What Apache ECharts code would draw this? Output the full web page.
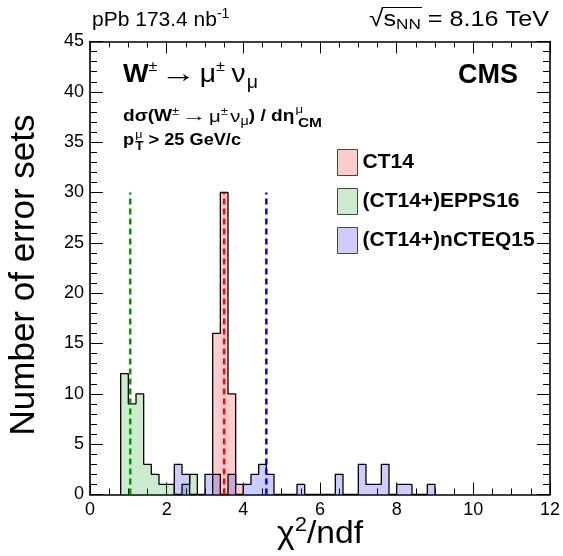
<!DOCTYPE html>
<html><head><meta charset="utf-8">
<script src="https://cdn.jsdelivr.net/npm/echarts@6/dist/echarts.min.js"></script>
<style>html,body{margin:0;padding:0;background:#fff}#c{width:563px;height:556px}</style>
</head><body><div id="c"></div>
<script>
// ---------- data ----------
const binWidth = 0.2;
const ct14Start = 3.2;
const ct14Counts = [16, 30, 10, 1];
const eppsStart = 0.8;
const eppsCounts = [12, 9, 10, 3, 2, 1, 1, 0, 1, 2];
const ncteqStart = 2.2;
const ncteqCounts = [3, 2, 0, 0, 2, 2, 0, 2, 0, 1, 2, 3, 2, 0, 0, 0, 1, 0, 0, 0, 0, 2, 0, 0, 3, 1, 1, 3, 0, 1, 1, 0, 0, 1];
const ct14Mean = 3.5;
const eppsMean = 1.05;
const ncteqMean = 4.6;
const meanLineTop = 30;
const seriesNames = ['CT14', '(CT14+)EPPS16', '(CT14+)nCTEQ15'];
const xRange = [0, 12];
const xTickStep = 2;
const yRange = [0, 45];
const yTickStep = 5;

// ---------- style ----------
const FF = '"Liberation Sans", Arial, Helvetica, sans-serif';
const fills = ['rgba(255,0,0,0.2)', 'rgba(0,155,0,0.2)', 'rgba(0,0,255,0.2)'];
const lineCols = ['#ff0000', '#009900', '#0000ff'];

function stepData(start, counts) {
  const pts = [[start, 0]];
  counts.forEach((c, i) => pts.push([+(start + i * binWidth).toFixed(6), c]));
  pts.push([+(start + counts.length * binWidth).toFixed(6), 0]);
  return pts;
}

const ctx = document.createElement('canvas').getContext('2d');
function tw(t, f) { ctx.font = f; return ctx.measureText(t).width; }
function pieceW(q) { return (q.w != null ? q.w : tw(q.t, q.f)) + (q.dx || 0); }
function naturalWidth(pieces) {
  let w = 0;
  pieces.forEach(p => { const g = Array.isArray(p) ? p : [p]; w += Math.max(...g.map(pieceW)) + (g[0].gap || 0); });
  return w;
}
// lay out a sequence of text pieces; an array item = vertically stacked group
function layout(x0, yc, pieces, sx) {
  sx = sx || 1;
  const out = [];
  let x = x0;
  pieces.forEach(p => {
    const grp = Array.isArray(p) ? p : [p];
    x += (grp[0].gap || 0) * sx;
    let adv = 0;
    grp.forEach(q => {
      const nat = tw(q.t, q.f);
      const s = sx * (q.w != null ? q.w / nat : 1);
      out.push({ type: 'text', x: x + (q.dx || 0) * sx, y: yc + (q.dy || 0), scaleX: s, silent: true,
        style: { text: q.t, font: q.f, fill: '#000', textAlign: 'left', textVerticalAlign: 'middle' } });
      adv = Math.max(adv, pieceW(q));
    });
    x += adv * sx;
  });
  return out;
}
function fitLayout(x0, x1, yc, pieces) {
  return layout(x0, yc, pieces, (x1 - x0) / naturalWidth(pieces));
}

const bold = s => 'bold ' + s + 'px ' + FF;
const reg = s => s + 'px ' + FF;

const chart = echarts.init(document.getElementById('c'), null, { renderer: 'canvas' });

const graphics = [];
// header left
graphics.push(...layout(92, 20, [{ t: 'pPb 173.4 nb', f: reg(21) }, { t: '-1', f: reg(14), dy: -6 }]));
// header right
const hdr = [{ t: '\u221A', f: reg(23) }, { t: 's', f: reg(22) }, { t: 'NN', f: reg(15), dy: 5 }, { t: ' = 8.16 TeV', f: reg(22) }];
const hx0 = 369, hx1 = 549;
graphics.push(...fitLayout(hx0, hx1, 20, hdr));
const hs = (hx1 - hx0) / naturalWidth(hdr);
const ovStart = hx0 + (tw('\u221A', reg(23)) - 1.5) * hs;
const ovEnd = hx0 + (tw('\u221A', reg(23)) + tw('s', reg(22)) + tw('NN', reg(15)) + 1) * hs;
graphics.push({ type: 'line', silent: true, shape: { x1: ovStart, y1: 7.5, x2: ovEnd, y2: 7.5 }, style: { stroke: '#000', lineWidth: 1.2 } });

// process label
graphics.push(...fitLayout(123, 258, 75, [
  { t: 'W', f: bold(25) }, { t: '\u00B1', f: reg(15), dy: -8 },
  { t: '\u2192', f: reg(26), w: 33, gap: 3 }, { t: '\u03BC', f: reg(26), gap: 3 }, { t: '\u00B1', f: reg(15), dy: -8 },
  { t: '\u03BD', f: reg(26), gap: 6 }, { t: '\u03BC', f: reg(18), dy: 8, gap: 1 }
]));
graphics.push(...fitLayout(123, 322, 117, [
  { t: 'd\u03C3(W', f: bold(16) }, { t: '\u00B1', f: reg(11), dy: -5 },
  { t: '\u2192', f: reg(16), w: 21, gap: 2 }, { t: '\u03BC', f: reg(17), gap: 2 }, { t: '\u00B1', f: reg(11), dy: -5 },
  { t: '\u03BD', f: reg(17), gap: 2 }, { t: '\u03BC', f: reg(12), dy: 5 },
  { t: ') / d\u03B7', f: bold(16) },
  [{ t: '\u03BC', f: reg(11), dy: -7, gap: 1 }, { t: 'CM', f: bold(13), dy: 6, dx: 2 }]
]));
graphics.push(...fitLayout(123, 241, 141, [
  { t: 'p', f: bold(16) },
  [{ t: '\u03BC', f: reg(11), dy: -6, gap: 1 }, { t: 'T', f: bold(12), dy: 6 }],
  { t: ' > 25 GeV/c', f: bold(16) }
]));
// CMS
graphics.push({ type: 'text', x: 518, y: 76, silent: true,
  style: { text: 'CMS', font: bold(27), fill: '#000', textAlign: 'right', textVerticalAlign: 'middle' } });
// axis titles
graphics.push({ type: 'text', x: 24, y: 275, rotation: Math.PI / 2, silent: true,
  style: { text: 'Number of error sets', font: reg(35), fill: '#000', textAlign: 'center', textVerticalAlign: 'middle' } });
graphics.push(...fitLayout(277, 363, 534, [{ t: '\u03C7', f: reg(32) }, { t: '2', f: reg(21), dy: -9 }, { t: '/ndf', f: reg(32) }]));

const tickStyle = { color: '#000', width: 1 };
function xAx(pos, labels) {
  return {
    type: 'value', position: pos, min: xRange[0], max: xRange[1], interval: xTickStep,
    axisLine: { show: true, onZero: false, lineStyle: { color: '#000', width: 1.6 } },
    axisTick: { show: true, inside: true, length: 12, lineStyle: tickStyle },
    minorTick: { show: true, splitNumber: 4, length: 6, lineStyle: tickStyle },
    axisLabel: { show: labels, fontSize: 18, fontFamily: FF, color: '#000', margin: 7 },
    splitLine: { show: false }
  };
}
function yAx(pos, labels) {
  return {
    type: 'value', position: pos, min: yRange[0], max: yRange[1], interval: yTickStep,
    axisLine: { show: true, onZero: false, lineStyle: { color: '#000', width: 1.6 } },
    axisTick: { show: true, inside: true, length: 13, lineStyle: tickStyle },
    minorTick: { show: true, splitNumber: 5, length: 7, lineStyle: tickStyle },
    axisLabel: { show: labels, fontSize: 18, fontFamily: FF, color: '#000', margin: 6 },
    splitLine: { show: false }
  };
}

const histData = [stepData(ct14Start, ct14Counts), stepData(eppsStart, eppsCounts), stepData(ncteqStart, ncteqCounts)];
const means = [ct14Mean, eppsMean, ncteqMean];

const series = [];
histData.forEach((d, i) => {
  series.push({
    name: seriesNames[i], type: 'line', step: 'end', data: d, symbol: 'none',
    xAxisIndex: 0, yAxisIndex: 0, z: 2,
    itemStyle: { color: fills[i] },
    lineStyle: { color: '#000', width: 1.3 },
    areaStyle: { color: fills[i], opacity: 1 },
    emphasis: { disabled: true }, animation: false
  });
});
means.forEach((m, i) => {
  series.push({
    name: 'mean' + i, type: 'line', data: [[m, 0], [m, meanLineTop]], symbol: 'none',
    xAxisIndex: 0, yAxisIndex: 0, z: 5,
    lineStyle: { color: lineCols[i], width: 2.5, type: [6, 4] },
    emphasis: { disabled: true }, animation: false
  });
});

chart.setOption({
  animation: false,
  backgroundColor: '#fff',
  grid: { left: 90, right: 11.5, top: 41.5, bottom: 61.5, containLabel: false },
  xAxis: [xAx('bottom', true), xAx('top', false)],
  yAxis: [yAx('left', true), yAx('right', false)],
  legend: {
    orient: 'vertical', left: 337, top: 149, padding: 0, itemWidth: 20, itemHeight: 26, itemGap: 12,
    selectedMode: false,
    textStyle: { fontFamily: FF, fontWeight: 'bold', fontSize: 21, color: '#000' },
    data: seriesNames.map((n, i) => ({ name: n, icon: 'rect',
      itemStyle: { color: fills[i], borderColor: '#444', borderWidth: 1 } }))
  },
  series: series,
  graphic: graphics
});
</script></body></html>
